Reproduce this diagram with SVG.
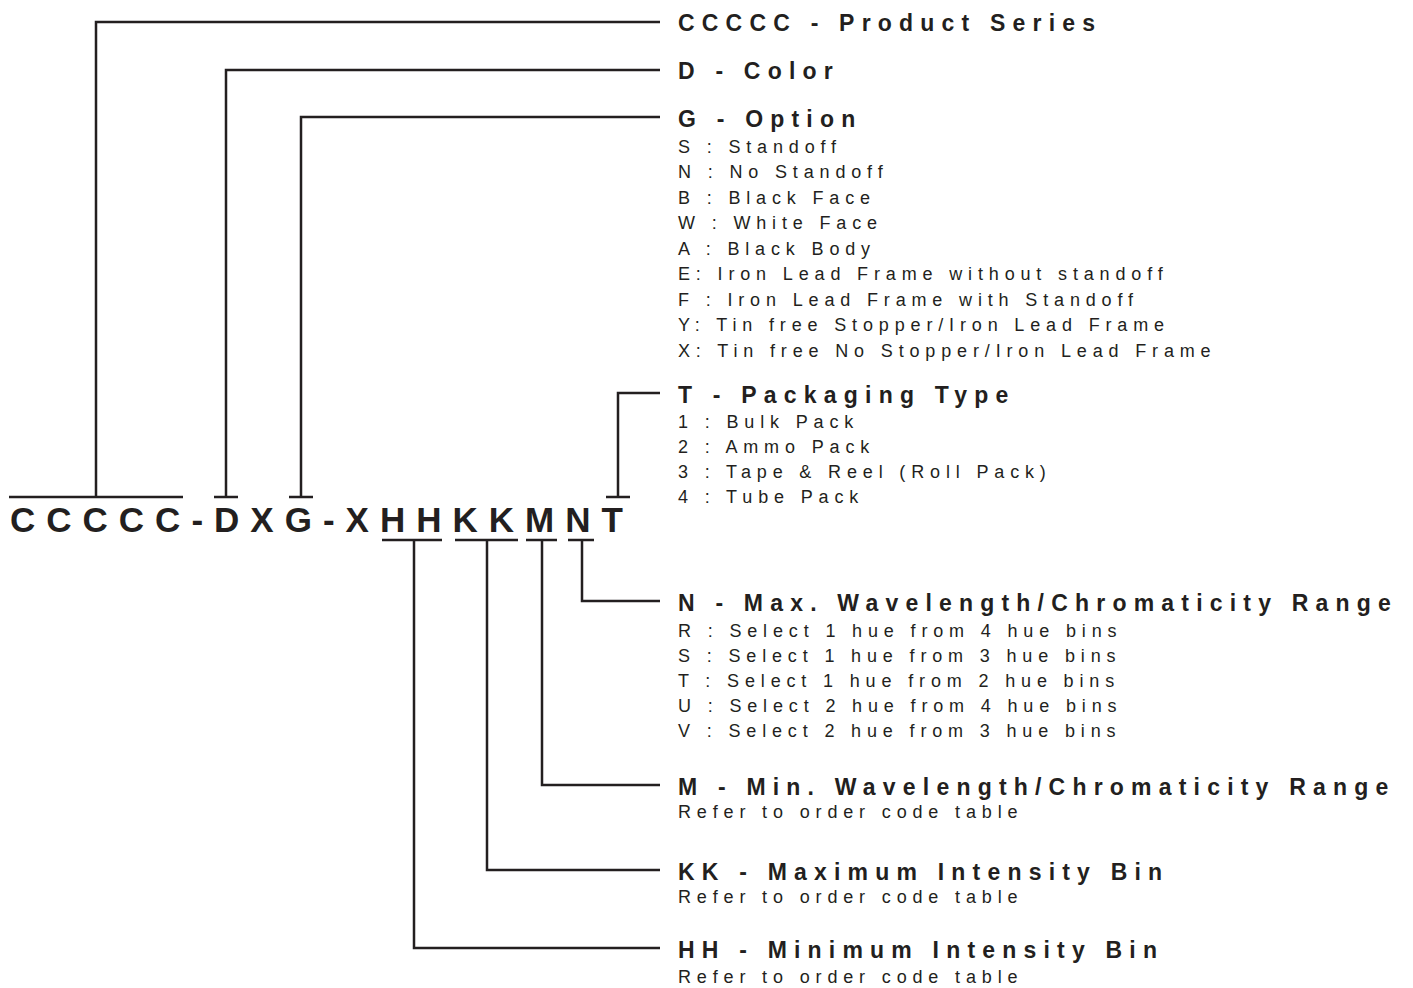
<svg xmlns="http://www.w3.org/2000/svg" width="1413" height="988" viewBox="0 0 1413 988">
<style>
.ln{fill:none;stroke:#231f20;stroke-width:2.5}
.code{font-family:"Liberation Sans",Arial,sans-serif;font-weight:bold;font-size:35px;letter-spacing:11px;fill:#231f20}
.hd{font-family:"Liberation Sans",Arial,sans-serif;font-weight:bold;font-size:23px;letter-spacing:7.2px;fill:#231f20}
.bd{font-family:"Liberation Sans",Arial,sans-serif;font-size:18px;letter-spacing:5.85px;fill:#231f20}
</style>
<rect width="1413" height="988" fill="#ffffff"/>
<g id="code">
<text class="code" x="10" y="532">CCCCC-DXG-XHHKKMNT</text>
</g>
<g id="connectors">
<path class="ln" d="M9 497H183M96 497V22H660"/>
<path class="ln" d="M214 497H238M226 497V70H660"/>
<path class="ln" d="M289 497H313M301 497V117H660"/>
<path class="ln" d="M606 497H630M618 497V393H660"/>
<path class="ln" d="M568 540H594M582 540V601H660"/>
<path class="ln" d="M526 540H557M542 540V785H660"/>
<path class="ln" d="M455 540H518M487 540V870H660"/>
<path class="ln" d="M382 540H442M414 540V948H660"/>
</g>
<g id="series">
<text class="hd" x="678" y="31">CCCCC - Product Series</text>
</g>
<g id="color">
<text class="hd" x="678" y="79">D - Color</text>
</g>
<g id="option">
<text class="hd" x="678" y="127">G - Option</text>
<text class="bd" x="678" y="152.5">S : Standoff</text>
<text class="bd" x="678" y="178">N : No Standoff</text>
<text class="bd" x="678" y="203.5">B : Black Face</text>
<text class="bd" x="678" y="229">W : White Face</text>
<text class="bd" x="678" y="254.5">A : Black Body</text>
<text class="bd" x="678" y="280">E: Iron Lead Frame without standoff</text>
<text class="bd" x="678" y="305.5">F : Iron Lead Frame with Standoff</text>
<text class="bd" x="678" y="331">Y: Tin free Stopper/Iron Lead Frame</text>
<text class="bd" x="678" y="356.5">X: Tin free No Stopper/Iron Lead Frame</text>
</g>
<g id="packaging">
<text class="hd" x="678" y="403">T - Packaging Type</text>
<text class="bd" x="678" y="428">1 : Bulk Pack</text>
<text class="bd" x="678" y="453">2 : Ammo Pack</text>
<text class="bd" x="678" y="478">3 : Tape &amp; Reel (Roll Pack)</text>
<text class="bd" x="678" y="503">4 : Tube Pack</text>
</g>
<g id="max-wavelength">
<text class="hd" x="678" y="611">N - Max. Wavelength/Chromaticity Range</text>
<text class="bd" x="678" y="636.5">R : Select 1 hue from 4 hue bins</text>
<text class="bd" x="678" y="661.5">S : Select 1 hue from 3 hue bins</text>
<text class="bd" x="678" y="686.5">T : Select 1 hue from 2 hue bins</text>
<text class="bd" x="678" y="711.5">U : Select 2 hue from 4 hue bins</text>
<text class="bd" x="678" y="737">V : Select 2 hue from 3 hue bins</text>
</g>
<g id="min-wavelength">
<text class="hd" x="678" y="795">M - Min. Wavelength/Chromaticity Range</text>
<text class="bd" x="678" y="818">Refer to order code table</text>
</g>
<g id="max-intensity">
<text class="hd" x="678" y="880">KK - Maximum Intensity Bin</text>
<text class="bd" x="678" y="903">Refer to order code table</text>
</g>
<g id="min-intensity">
<text class="hd" x="678" y="958">HH - Minimum Intensity Bin</text>
<text class="bd" x="678" y="983">Refer to order code table</text>
</g>
</svg>
